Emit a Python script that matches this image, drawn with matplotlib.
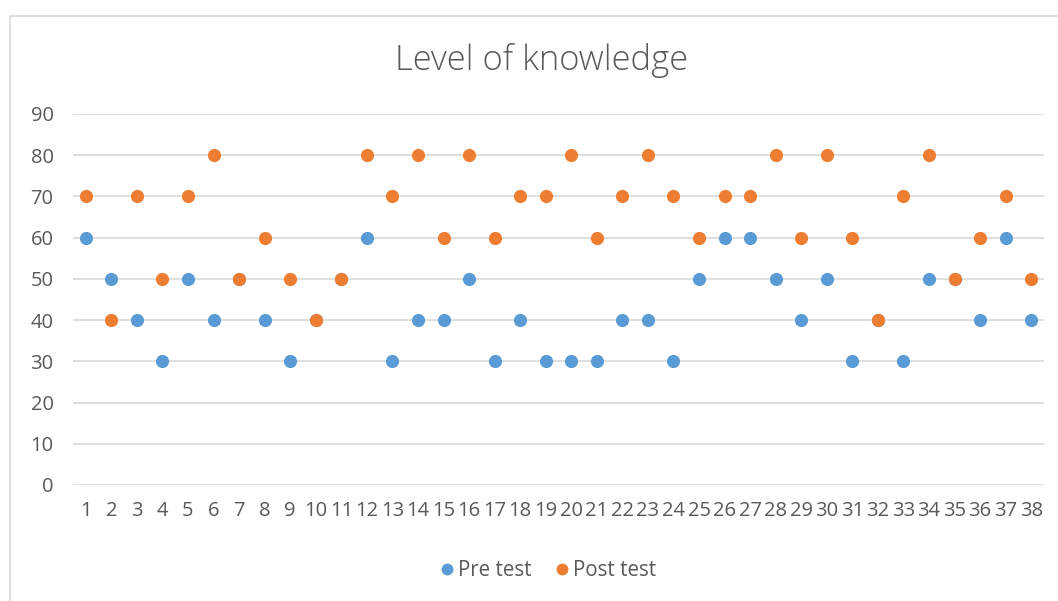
import matplotlib
matplotlib.use("Agg")
import matplotlib.pyplot as plt
from matplotlib.patches import Rectangle
from matplotlib.lines import Line2D

students = list(range(1, 39))
pre_test = [60, 50, 40, 30, 50, 40, 50, 40, 30, 40, 50, 60, 30, 40, 40, 50, 30, 40, 30, 30,
            30, 40, 40, 30, 50, 60, 60, 50, 40, 50, 30, 40, 30, 50, 50, 40, 60, 40]
post_test = [70, 40, 70, 50, 70, 80, 50, 60, 50, 40, 50, 80, 70, 80, 60, 80, 60, 70, 70, 80,
             60, 70, 80, 70, 60, 70, 70, 80, 60, 80, 60, 40, 70, 80, 50, 60, 70, 50]
y_ticks = [0, 10, 20, 30, 40, 50, 60, 70, 80, 90]

W, H = 1058, 601
fig = plt.figure(figsize=(W / 100, H / 100), dpi=100)
plt.rcParams['font.family'] = ['Open Sans', 'DejaVu Sans']

# outer chart frame
fig.patches.append(Rectangle((10 / W, -0.01), 1.1, 1 - 16 / H + 0.01, transform=fig.transFigure,
                             fill=False, edgecolor='#d9d9d9', linewidth=1.2))

left, right, top, bottom = 73, 1044, 114, 485
ax = fig.add_axes([left / W, 1 - bottom / H, (right - left) / W, (bottom - top) / H])
ax.set_xlim(0.5, 38.5)
ax.set_ylim(0, 90)
ax.set_yticks(y_ticks)
ax.set_xticks(students)
ax.set_xticklabels([str(s) for s in students])
for s in ax.spines.values():
    s.set_visible(False)
ax.grid(axis='y', color='#d9d9d9', linewidth=1.2)
ax.set_axisbelow(True)
ax.tick_params(axis='both', length=0, colors='#595959', labelsize=14.5)
ax.tick_params(axis='y', pad=14)
ax.tick_params(axis='x', pad=11.5)

ax.scatter(students, pre_test, s=90, color='#5B9BD5', zorder=3, clip_on=False, linewidths=0)
ax.scatter(students, post_test, s=90, color='#ED7D31', zorder=4, clip_on=False, linewidths=0)

fig.text(542 / W, 1 - 61 / H, 'Level of knowledge', ha='center', va='center',
         fontsize=24.8, color='#595959', fontweight='light')

handles = [Line2D([], [], marker='o', linestyle='none', markersize=7.5, color='#5B9BD5'),
           Line2D([], [], marker='o', linestyle='none', markersize=7.5, color='#ED7D31')]
fig.legend(handles, ['Pre test', 'Post test'], loc='center', bbox_to_anchor=(547 / W, 1 - 571 / H),
           ncol=2, frameon=False, fontsize=14.8, labelcolor='#595959', handletextpad=0.1,
           columnspacing=1.0, handlelength=0.9)

fig.savefig('out.png', dpi=100)
